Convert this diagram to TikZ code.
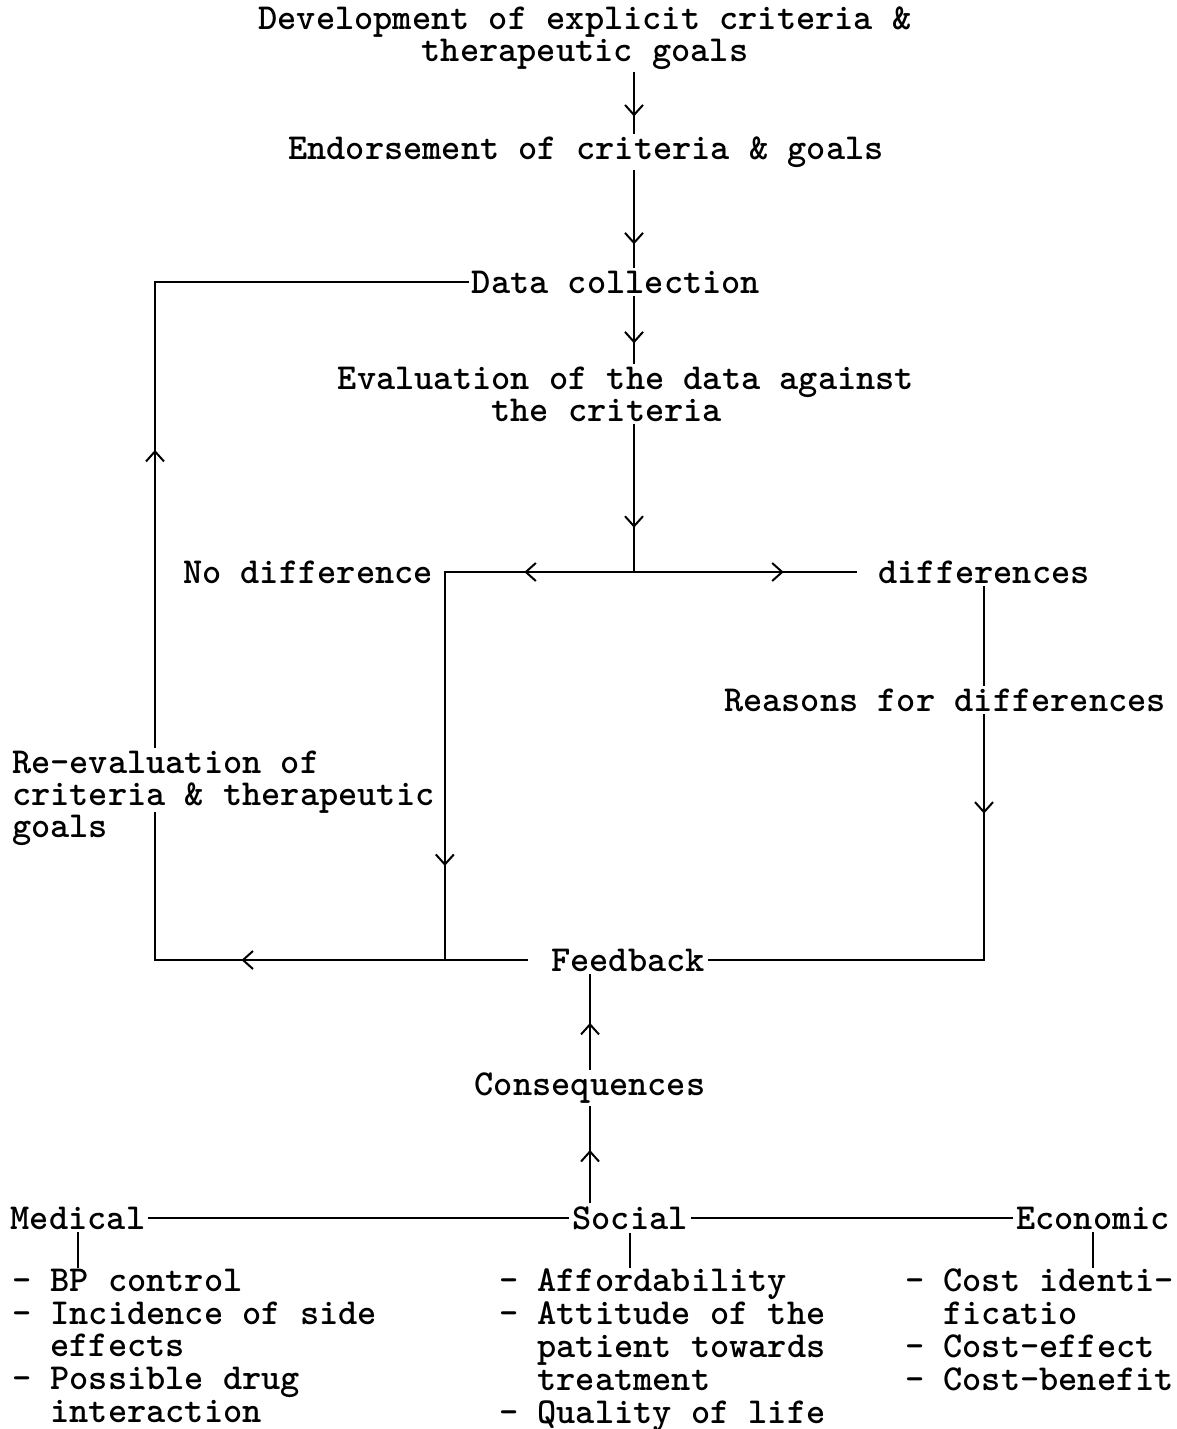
\documentclass[tikz,border=0pt]{standalone}
\usepackage{fontspec}
\usetikzlibrary{calc}
\usetikzlibrary{arrows.meta, backgrounds}
\usetikzlibrary{decorations.markings}

\begin{document}
\begin{tikzpicture}[
		x=0.5pt, y=-0.5pt,
		line width=1pt,
		every node/.style={font=\ttfamily\bfseries\fontsize{18.29}{16}\selectfont, inner sep=1pt},
		tip/.style={postaction={decorate, decoration={markings,
			mark=at position #1 with {\arrow{Straight Barb[length=5pt, width=9pt]}}}}},
		list/.style={anchor=north west, align=left, inner ysep=0pt,
			font=\ttfamily\bfseries\fontsize{18.29}{16.4}\selectfont},
	]
	\useasboundingbox (0,0) rectangle (1177,1429);
	\coordinate (spine) at (634,0);
	\coordinate (loop) at (155,0);
	% top of the cycle
	\node[align=center] (develop) at (585,38) {Development of explicit criteria \&\\therapeutic goals};
	\node (endorse) at (586,152) {Endorsement of criteria \& goals};
	\node (data) at (616,282) {Data collection};
	\node[align=center] (eval) at (626,394) {Evaluation of the data against\\the criteria\hspace*{1.05em}};
	\node[inner xsep=5.5pt] (nodiff) at (308,572) {No difference};
	\node[inner xsep=10pt] (diffs) at (984,572) {differences};
	\node (reasons) at (945,700) {Reasons for differences};
	\node (feedback) at (628,960) {Feedback};
	\node (conseq) at (590,1088) {Consequences};
	\node[anchor=west, align=left] (reeval) at (9,798)
		{Re-evaluation of\\criteria \& therapeutic\\goals};
	\coordinate (split) at (spine |- nodiff.east);
	\draw[tip=0.72] (develop.south -| spine) -- (endorse.north -| spine);
	\draw[tip=0.76] (endorse.south -| spine) -- (data.north -| spine);
	\draw[tip=0.70] (data.south -| spine) -- (eval.north -| spine);
	\draw[tip=0.70] (eval.south -| spine) -- (split);
	\draw[tip=0.19, tip=0.837] (split) -- (nodiff.east) -- (nodiff.east |- feedback.west);
	\draw[tip=0.67] (split) -- (split -| diffs.west);
	\draw (diffs.south) -- (reasons.north -| diffs.south);
	\draw[tip=0.19] (reasons.south -| diffs.south) |- (feedback.east);
	\begin{scope}[on background layer]
		\draw[line width=1pt, tip=0.21, tip=0.647] ([xshift=-10pt]feedback.west) -- (loop |- feedback.west)
			-- (loop |- data.west) -- (data.west);
		\fill[white] (reeval.north west) rectangle ($(reeval.east)+(150,14)$);
	\end{scope}
	% consequences
	\node (medical) at (78,1218) {Medical};
	\node (social) at (630,1218) {Social};
	\node (economic) at (1093,1218) {Economic};
	\draw[tip=0.49] (conseq.north) -- (feedback.south -| conseq.north);
	\draw[tip=0.55] (social.north -| conseq.south) -- (conseq.south);
	\draw (medical.east) -- (social.west);
	\draw (social.east) -- (economic.west);
	\node[list] (medlist) at (9,1268)
		{- BP control\\- Incidence of side\\\hspace*{1.05em}effects\\- Possible drug\\\hspace*{1.05em}interaction};
	\node[list] (soclist) at (496,1268)
		{- Affordability\\- Attitude of the\\\hspace*{1.05em}patient towards\\\hspace*{1.05em}treatment\\- Quality of life};
	\node[list] (ecolist) at (902,1268)
		{- Cost identi-\\\hspace*{1.05em}ficatio\\- Cost-effect\\- Cost-benefit};
	\draw (medical.south) -- (medlist.north -| medical.south);
	\draw (social.south) -- (soclist.north -| social.south);
	\draw (economic.south) -- (ecolist.north -| economic.south);
\end{tikzpicture}
\end{document}
